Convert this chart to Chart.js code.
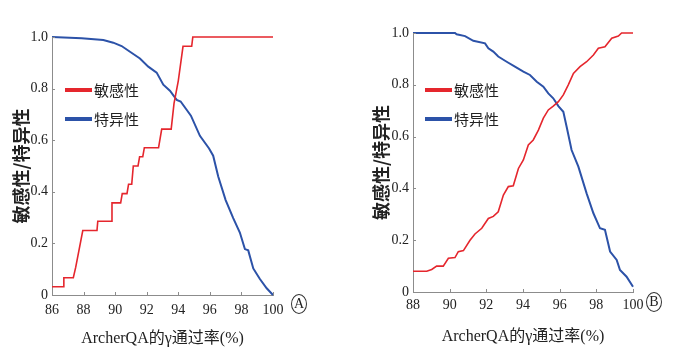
<!DOCTYPE html>
<html>
<head>
<meta charset="utf-8">
<script src="https://cdn.jsdelivr.net/npm/chart.js@4"></script>
<style>
    html, body { margin: 0; padding: 0; background: #fff; }
    #wrap { position: relative; width: 698px; height: 360px; }
    .panel { position: absolute; top: 0; width: 349px; height: 360px; }
    .mark {
        position: absolute; width: 14px; height: 18px;
        border: 1px solid #333; border-radius: 50%;
        font: 14px 'Liberation Serif', serif; line-height: 18px;
        text-align: center; color: #222;
    }
</style>
</head>
<body>
<div id="wrap">
    <div class="panel" style="left:0"><canvas id="chartA" width="349" height="360"></canvas></div>
    <div class="panel" style="left:349px"><canvas id="chartB" width="349" height="360"></canvas></div>
    <div class="mark" style="left:291px; top:294px">A</div>
    <div class="mark" style="left:646px; top:292px">B</div>
</div>
<script>
// Series labels
const seriesLabels = ['敏感性', '特异性'];
const xTitle = 'ArcherQA的γ通过率(%)';
const yTitle = '敏感性/特异性';

// Tick labels
const xTicksA = [86, 88, 90, 92, 94, 96, 98, 100];
const xTicksB = [88, 90, 92, 94, 96, 98, 100];
const yTicks = [0, 0.2, 0.4, 0.6, 0.8, 1.0];

// Panel A - sensitivity
const sensAX = [86, 86.7, 86.75, 87.35, 87.5, 87.95, 88.85, 88.9, 89.75, 89.8, 90.35, 90.45, 90.75, 90.85, 91.05, 91.15, 91.45, 91.55, 91.75, 91.85, 92.75, 92.85, 92.95, 93.55, 93.73, 94.0, 94.3, 94.85, 94.92, 100];
const sensAY = [0.032, 0.032, 0.067, 0.067, 0.107, 0.25, 0.25, 0.286, 0.286, 0.357, 0.357, 0.393, 0.393, 0.429, 0.429, 0.5, 0.5, 0.536, 0.536, 0.571, 0.571, 0.607, 0.643, 0.643, 0.743, 0.83, 0.964, 0.964, 1.0, 1.0];

// Panel A - specificity
const specAX = [86, 87.88, 89.25, 89.88, 90.41, 90.94, 91.57, 92.1, 92.63, 93.05, 93.47, 93.9, 94.15, 94.8, 95.37, 95.95, 96.21, 96.53, 97.0, 97.48, 97.9, 98.22, 98.43, 98.75, 99.17, 99.6, 100];
const specAY = [1.0, 0.995, 0.988, 0.978, 0.965, 0.943, 0.917, 0.885, 0.862, 0.815, 0.792, 0.756, 0.75, 0.695, 0.617, 0.568, 0.54, 0.459, 0.368, 0.298, 0.242, 0.178, 0.173, 0.103, 0.062, 0.026, 0];

// Panel B - sensitivity
const sensBX = [88, 88.75, 89.02, 89.29, 89.65, 89.93, 90.29, 90.47, 90.75, 91.11, 91.38, 91.75, 92.11, 92.38, 92.65, 92.93, 93.2, 93.47, 93.75, 94.02, 94.29, 94.56, 94.84, 95.11, 95.38, 95.65, 95.93, 96.2, 96.47, 96.75, 97.11, 97.47, 97.84, 98.11, 98.47, 98.84, 99.2, 99.38, 100];
const sensBY = [0.08, 0.08, 0.087, 0.1, 0.1, 0.13, 0.133, 0.156, 0.16, 0.2, 0.224, 0.246, 0.284, 0.292, 0.31, 0.374, 0.407, 0.41, 0.477, 0.51, 0.568, 0.587, 0.625, 0.671, 0.703, 0.718, 0.735, 0.761, 0.8, 0.844, 0.87, 0.889, 0.915, 0.941, 0.947, 0.98, 0.988, 1.0, 1.0];

// Panel B - specificity
const specBX = [88, 90.29, 90.38, 90.84, 91.29, 91.93, 92.11, 92.38, 92.65, 93.11, 93.56, 94.02, 94.38, 94.75, 95.11, 95.38, 95.65, 95.93, 96.2, 96.38, 96.65, 97.02, 97.47, 97.84, 98.2, 98.47, 98.75, 99.11, 99.29, 99.65, 100];
const specBY = [1.0, 1.0, 0.995, 0.988, 0.97, 0.96, 0.941, 0.928, 0.909, 0.889, 0.87, 0.851, 0.838, 0.812, 0.793, 0.767, 0.748, 0.718, 0.696, 0.638, 0.548, 0.484, 0.381, 0.304, 0.246, 0.24, 0.156, 0.124, 0.085, 0.059, 0.02];

const RED = '#e5262d';
const BLUE = '#2c52a8';
const AXIS = '#8c8c8c';
const SERIF = "'Liberation Serif', 'Noto Sans CJK SC', serif";
const CJK = "'Noto Sans CJK SC', sans-serif";

function toPoints(xs, ys) {
    return xs.map((x, i) => ({ x: x, y: ys[i] }));
}

// small inward tick marks on both axes
const innerTicks = {
    id: 'innerTicks',
    afterDraw(chart) {
        const { ctx, chartArea, scales } = chart;
        ctx.save();
        ctx.strokeStyle = AXIS;
        ctx.lineWidth = 1;
        ctx.beginPath();
        scales.x.ticks.forEach(t => {
            const px = Math.round(scales.x.getPixelForValue(t.value)) + 0.5;
            ctx.moveTo(px, chartArea.bottom);
            ctx.lineTo(px, chartArea.bottom - 3);
        });
        scales.y.ticks.forEach(t => {
            const py = Math.round(scales.y.getPixelForValue(t.value)) + 0.5;
            ctx.moveTo(chartArea.left, py);
            ctx.lineTo(chartArea.left + 3, py);
        });
        ctx.stroke();
        ctx.restore();
    }
};

// legend drawn inside the plot area
const insideLegend = {
    id: 'insideLegend',
    afterDraw(chart, args, opts) {
        const { ctx, chartArea } = chart;
        ctx.save();
        ctx.font = '15px ' + CJK;
        ctx.textBaseline = 'middle';
        ctx.fillStyle = '#222';
        chart.data.datasets.forEach((ds, i) => {
            const x = chartArea.left + opts.left;
            const y = chartArea.top + opts.top + i * opts.gap;
            ctx.strokeStyle = ds.borderColor;
            ctx.lineWidth = 4;
            ctx.beginPath();
            ctx.moveTo(x, y);
            ctx.lineTo(x + 27, y);
            ctx.stroke();
            ctx.fillText(ds.label, x + 29, y);
        });
        ctx.restore();
    }
};

function makeChart(id, sens, spec, xTicks, box) {
    return new Chart(document.getElementById(id), {
        type: 'line',
        data: {
            datasets: [
                { label: seriesLabels[0], data: sens, borderColor: RED, borderWidth: 1.6, clip: 4 },
                { label: seriesLabels[1], data: spec, borderColor: BLUE, borderWidth: 2, clip: 4 }
            ]
        },
        options: {
            responsive: false,
            animation: false,
            layout: { padding: { top: box.top, right: box.right, left: 0, bottom: 0 } },
            elements: { point: { radius: 0 }, line: { tension: 0 } },
            plugins: {
                legend: { display: false },
                tooltip: { enabled: false },
                insideLegend: box.legend
            },
            scales: {
                x: {
                    type: 'linear',
                    min: xTicks[0],
                    max: xTicks[xTicks.length - 1],
                    afterBuildTicks: s => { s.ticks = xTicks.map(v => ({ value: v })); },
                    afterFit: s => { s.height = box.xHeight; },
                    grid: { display: true, drawOnChartArea: false, drawTicks: false },
                    border: { display: true, color: AXIS, width: 1 },
                    ticks: { padding: box.xPad, color: '#222', font: { family: SERIF, size: 14 } },
                    title: {
                        display: true, text: xTitle, color: '#222',
                        font: { family: SERIF, size: 16 },
                        padding: { top: 0, bottom: box.xTitlePad }
                    }
                },
                y: {
                    min: 0,
                    max: 1,
                    afterBuildTicks: s => { s.ticks = yTicks.map(v => ({ value: v })); },
                    afterFit: s => { s.width = box.yWidth; },
                    grid: { display: true, drawOnChartArea: false, drawTicks: false },
                    border: { display: true, color: AXIS, width: 1 },
                    ticks: {
                        padding: 4, color: '#222',
                        font: { family: SERIF, size: 14 },
                        callback: v => v === 0 ? '0' : v.toFixed(1)
                    },
                    title: {
                        display: true, text: yTitle, color: '#222',
                        font: { family: CJK, size: 18, weight: 'bold' },
                        padding: { top: box.yTitlePad, bottom: 0 }
                    }
                }
            }
        },
        plugins: [innerTicks, insideLegend]
    });
}

makeChart('chartA', toPoints(sensAX, sensAY), toPoints(specAX, specAY), xTicksA, {
    top: 37, right: 76, xHeight: 65, yWidth: 52, xPad: 7, xTitlePad: 12, yTitlePad: 10,
    legend: { left: 13, top: 53, gap: 29 }
});

makeChart('chartB', toPoints(sensBX, sensBY), toPoints(specBX, specBY), xTicksB, {
    top: 33, right: 65, xHeight: 68, yWidth: 64, xPad: 5, xTitlePad: 14, yTitlePad: 21,
    legend: { left: 12, top: 57, gap: 29 }
});
</script>
</body>
</html>
